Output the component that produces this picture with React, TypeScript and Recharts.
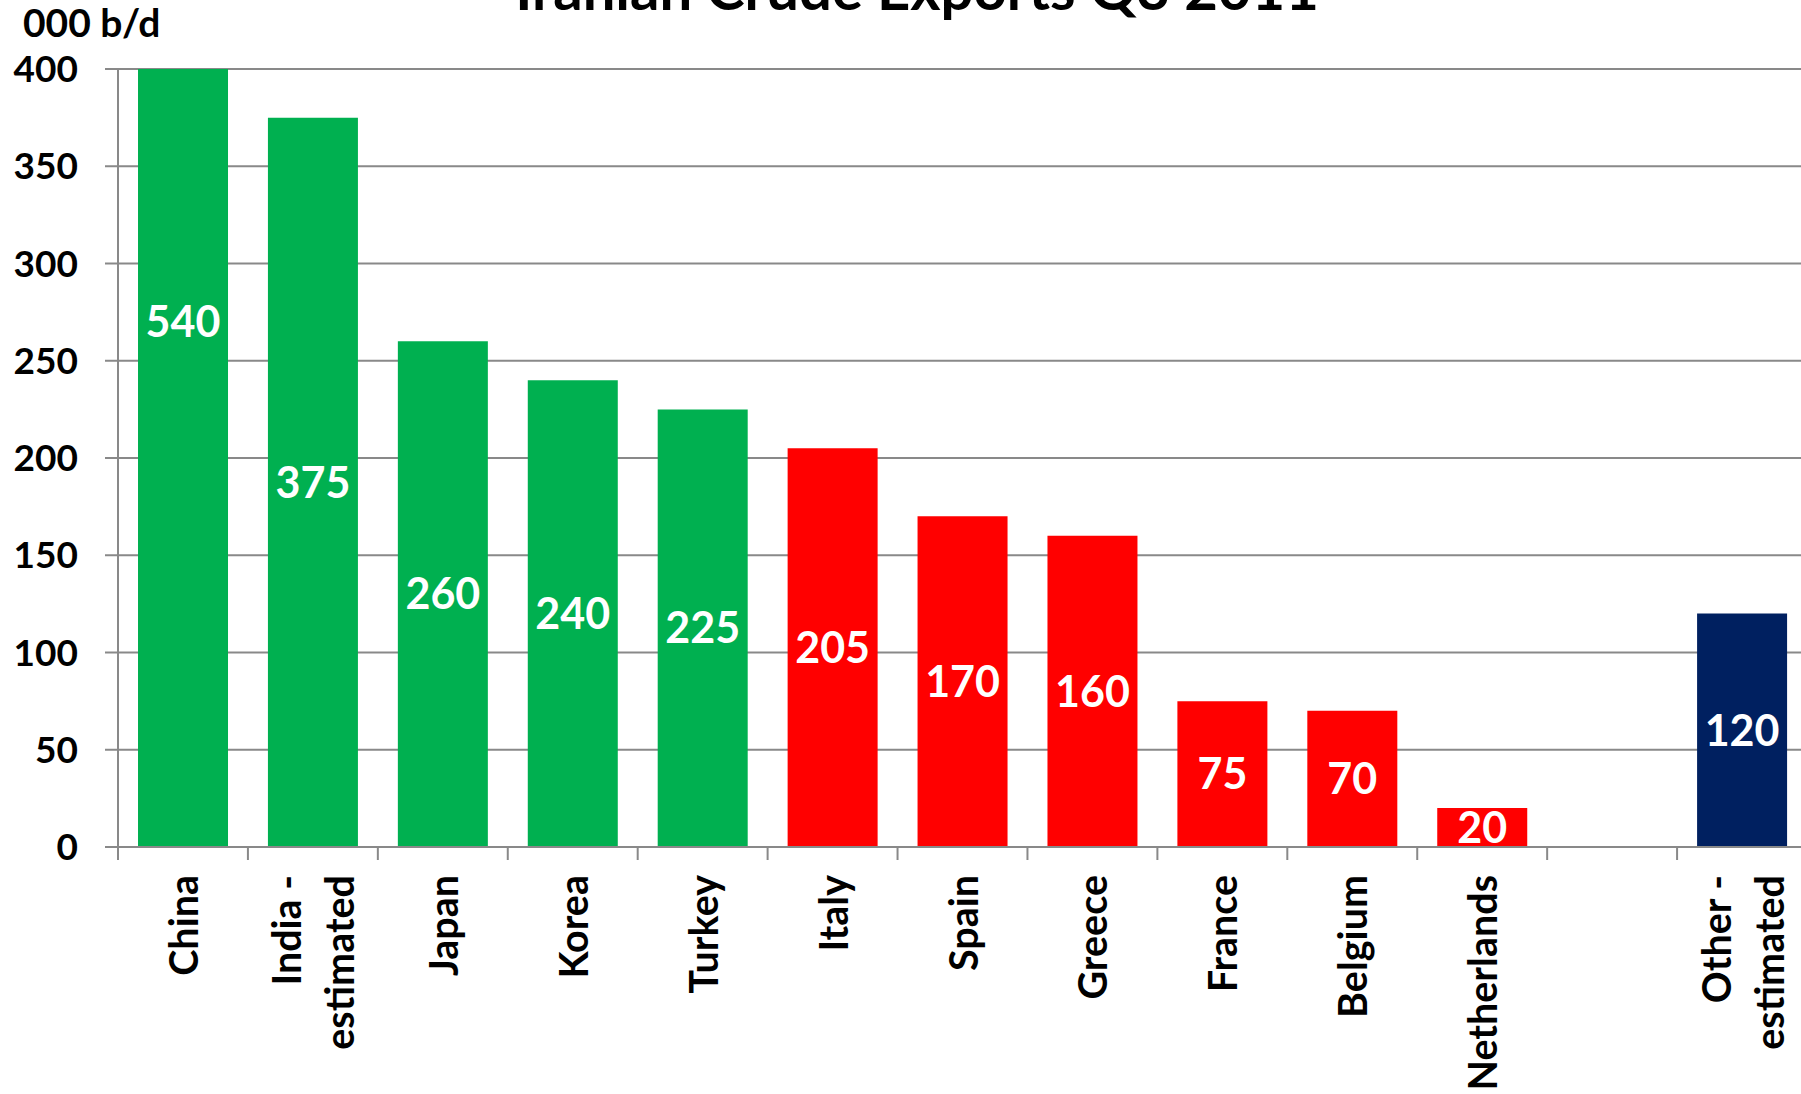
import React from 'react';
import { BarChart, Bar, XAxis, YAxis, CartesianGrid, Cell, LabelList } from 'recharts';

// Iranian crude exports by destination, 000 b/d
const countries = [
  'China', 'India -\nestimated', 'Japan', 'Korea', 'Turkey', 'Italy', 'Spain',
  'Greece', 'France', 'Belgium', 'Netherlands', '', 'Other -\nestimated',
];
const volumes = [540, 375, 260, 240, 225, 205, 170, 160, 75, 70, 20, null, 120];
const regions = [
  'asia', 'asia', 'asia', 'asia', 'asia', 'eu', 'eu',
  'eu', 'eu', 'eu', 'eu', 'none', 'other',
];
const yTicks = [0, 50, 100, 150, 200, 250, 300, 350, 400];

const REGION_COLORS: Record<string, string> = {
  asia: '#00B050',
  eu: '#FF0000',
  other: '#002060',
  none: 'transparent',
};
const GRID = '#898989';
const FONT = 'Lato, "Open Sans", sans-serif';
const TICK_SIZE = 13;
const TICK_MARGIN = 15;
const LINE_GAP = 53;

const data = countries.map((name, i) => ({ name, value: volumes[i], region: regions[i] }));

// category label rotated -90, plus a tick mark on the left band edge
const CategoryTick = (props: any) => {
  const { x, y, payload, width, visibleTicksCount } = props;
  const half = payload?.offset || (width && visibleTicksCount ? width / visibleTicksCount / 2 : 65);
  const lines = String(payload.value).split('\n');
  const axisY = y - TICK_SIZE - TICK_MARGIN;
  return (
    <g>
      <line x1={x - half} x2={x - half} y1={axisY} y2={axisY + TICK_SIZE} stroke={GRID} strokeWidth={2} />
      {lines.map((line, i) => (
        <text
          key={i}
          transform={`translate(${x + (i - (lines.length - 1) / 2) * LINE_GAP}, ${y}) rotate(-90)`}
          textAnchor="end"
          dy="0.38em"
          fill="#000"
          fontSize={39.5}
          fontWeight={700}
          fontFamily={FONT}
        >
          {line}
        </text>
      ))}
    </g>
  );
};

const App: React.FC = () => {
  return (
    <div style={{ position: 'absolute', left: 0, top: 0, width: 1801, height: 1094, overflow: 'hidden', background: '#fff' }}>
      <BarChart
        width={1807}
        height={1094}
        data={data}
        margin={{ top: 69, right: 0, bottom: 0, left: 0 }}
        barCategoryGap="15.4%"
      >
        <CartesianGrid vertical={false} stroke={GRID} strokeWidth={2} />
        <XAxis
          dataKey="name"
          interval={0}
          height={247}
          tickSize={TICK_SIZE}
          tickMargin={TICK_MARGIN}
          tickLine={false}
          axisLine={{ stroke: GRID, strokeWidth: 2 }}
          tick={<CategoryTick />}
        />
        <YAxis
          domain={[0, 400]}
          ticks={yTicks}
          allowDataOverflow
          interval={0}
          width={118}
          tickSize={TICK_SIZE}
          tickMargin={27}
          axisLine={{ stroke: GRID, strokeWidth: 2 }}
          tickLine={{ stroke: GRID, strokeWidth: 2 }}
          tick={{ fill: '#000', fontSize: 37, fontWeight: 700, fontFamily: FONT }}
        />
        <Bar dataKey="value" isAnimationActive={false}>
          {data.map((d, i) => (
            <Cell key={`cell-${i}`} fill={REGION_COLORS[d.region]} />
          ))}
          <LabelList
            dataKey="value"
            position="center"
            fill="#fff"
            fontSize={43}
            fontWeight={700}
            fontFamily={FONT}
            formatter={(v: any) => (v == null ? '' : v)}
          />
        </Bar>
      </BarChart>
      <svg width={1801} height={1094} style={{ position: 'absolute', left: 0, top: 0, pointerEvents: 'none' }}>
        <text x={917} y={10} textAnchor="middle" fontSize={58} fontWeight={700} fontFamily={FONT} fill="#000">
          Iranian Crude Exports Q3 2011
        </text>
        <text x={23} y={37} fontSize={39} fontWeight={700} fontFamily={FONT} fill="#000">
          000 b/d
        </text>
      </svg>
    </div>
  );
};

export default App;
